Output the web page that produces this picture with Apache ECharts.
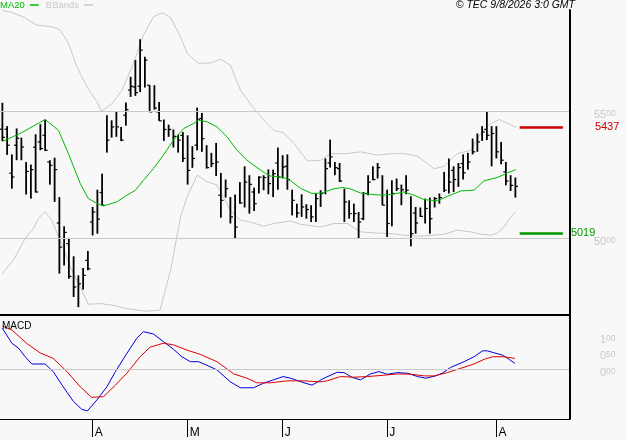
<!DOCTYPE html>
<html>
<head>
<meta charset="utf-8">
<script src="https://cdn.jsdelivr.net/npm/echarts@6/dist/echarts.min.js"></script>
<style>
  html, body { margin: 0; padding: 0; background: #f8f8f8; }
  #chart { width: 627px; height: 440px; }
</style>
</head>
<body>
<div id="chart"></div>
<script>
// bar slots on the time axis (data fills the first 109, rest is blank space)
const slotCount = 120;
const monthTicks = [19, 39, 59, 81, 104];
const monthLabels = ["A", "M", "J", "J", "A"];

const highs = [
    5533, 5441, 5330, 5432, 5396, 5300, 5290, 5409, 5449, 5467,
    5307, 5317, 5162, 5047, 5001, 4929, 4854, 4883, 4950, 5123,
    5191, 5254, 5484, 5464, 5500, 5438, 5534, 5635, 5701, 5783,
    5714, 5602, 5602, 5536, 5467, 5447, 5428, 5408, 5418, 5405,
    5362, 5514, 5493, 5366, 5336, 5375, 5257, 5231, 5162, 5172,
    5221, 5283, 5248, 5199, 5244, 5248, 5271, 5270, 5357, 5327,
    5330, 5191, 5136, 5173, 5134, 5130, 5176, 5189, 5314, 5388,
    5300, 5296, 5195, 5149, 5136, 5103, 5182, 5248, 5283, 5296,
    5248, 5191, 5228, 5235, 5211, 5248, 5165, 5123, 5121, 5156,
    5160, 5162, 5176, 5261, 5314, 5283, 5296, 5330, 5336, 5392,
    5412, 5441, 5497, 5441, 5441, 5379, 5300, 5248, 5239
];
const lows = [
    5382, 5328, 5195, 5307, 5307, 5172, 5156, 5180, 5346, 5343,
    5211, 5143, 4861, 4893, 4841, 4769, 4729, 4798, 4874, 5011,
    5018, 5127, 5337, 5396, 5399, 5382, 5443, 5556, 5560, 5575,
    5593, 5497, 5506, 5462, 5383, 5399, 5357, 5337, 5300, 5211,
    5277, 5346, 5340, 5274, 5280, 5245, 5081, 5160, 5058, 4999,
    5136, 5121, 5097, 5107, 5176, 5189, 5173, 5162, 5191, 5235,
    5191, 5090, 5081, 5084, 5077, 5064, 5064, 5123, 5173, 5278,
    5248, 5221, 5064, 5077, 5064, 5001, 5071, 5169, 5228, 5235,
    5130, 5005, 5047, 5186, 5130, 5173, 4968, 5018, 5084, 5058,
    5018, 5121, 5136, 5182, 5176, 5182, 5202, 5231, 5270, 5330,
    5340, 5383, 5386, 5283, 5314, 5291, 5208, 5186, 5160
];
const closes = [
    5397, 5366, 5241, 5393, 5359, 5263, 5270, 5182, 5353, 5346,
    5287, 5270, 4965, 5023, 4850, 4808, 4821, 4854, 4880, 5103,
    5075, 5130, 5386, 5438, 5438, 5386, 5506, 5598, 5573, 5740,
    5701, 5497, 5512, 5462, 5428, 5428, 5401, 5386, 5314, 5267,
    5314, 5467, 5392, 5278, 5294, 5300, 5149, 5195, 5084, 5044,
    5139, 5221, 5212, 5136, 5240, 5239, 5215, 5254, 5241, 5280,
    5231, 5149, 5099, 5123, 5113, 5084, 5156, 5176, 5274, 5320,
    5278, 5225, 5143, 5097, 5097, 5064, 5176, 5221, 5231, 5278,
    5130, 5058, 5176, 5195, 5191, 5189, 5018, 5060, 5086, 5117,
    5077, 5156, 5160, 5189, 5221, 5231, 5278, 5257, 5300, 5340,
    5379, 5418, 5405, 5412, 5340, 5307, 5225, 5208, 5204
];
// open ticks, only where one can be seen on the left of the bar
const opens = [
    5429, 5429, 5256, 5366, null, null, null, 5358, 5379, 5405,
    5300, null, 5060, null, 4979, null, null, null, 4913, 5064,
    null, 5180, null, null, null, null, 5484, 5583, 5595, 5598,
    null, 5602, null, 5497, null, null, null, null, 5405, null,
    null, 5366, 5471, null, null, null, 5169, null, null, null,
    null, null, null, 5182, null, null, null, null, 5296, null,
    5283, null, null, null, null, null, null, null, null, 5296,
    null, 5274, null, null, null, null, 5077, 5176, null, null,
    null, null, null, null, null, null, null, 5099, null, null,
    null, null, null, null, null, 5267, null, 5294, null, null,
    null, null, 5428, null, null, null, 5261, null, null
];

// MA20, read at bar positions
const maX = [0, 3.7, 6.5, 9, 11.8, 13.9, 16.4, 18.1, 19.9, 21.3, 24.1, 26.2, 28, 29.7, 31.8, 33.9, 36, 38.2, 40.3, 41.3,
    43.1, 45.2, 47.3, 49.4, 51.5, 53.6, 55.4, 56.4, 59.2, 60.7, 62.8, 65.2, 67.3, 69.4, 71.6, 73.3, 75.4, 77.5, 80, 82.1,
    84.5, 86.7, 88.8, 91.6, 93.7, 96.5, 99.3, 101.4, 104.2, 106.4, 108.1];
const maY = [5381, 5412, 5441, 5467, 5425, 5333, 5215, 5156, 5137, 5127, 5143, 5169, 5189, 5228, 5274, 5327, 5386, 5432, 5452, 5465,
    5458, 5438, 5399, 5346, 5307, 5278, 5255, 5245, 5239, 5226, 5196, 5176, 5178, 5193, 5200, 5194, 5178, 5173, 5169, 5173,
    5182, 5169, 5152, 5147, 5165, 5186, 5189, 5226, 5239, 5257, 5270];

// Bollinger bands
const upperX = [0, 1.6, 4.4, 7.2, 10.4, 12.2, 13.9, 15.7, 17.8, 19.9, 20.9, 23.1, 25.2, 27.3, 29.7, 31.8, 33.6, 35.3, 37.5, 38.9,
    41.3, 43.8, 45.9, 48, 50.1, 52.9, 55.4, 57.1, 59.2, 61.4, 64.2, 67, 69.1, 72.6, 75.4, 78.9, 82.1, 84.5, 87.4, 89.5,
    90.9, 93, 95.8, 98.6, 100.7, 102.8, 104.6, 106.4, 108.1];
const upperY = [5895, 5891, 5871, 5839, 5832, 5819, 5767, 5674, 5596, 5537, 5500, 5530, 5583, 5674, 5799, 5871, 5887, 5871, 5793, 5727,
    5688, 5690, 5704, 5681, 5583, 5511, 5458, 5425, 5415, 5373, 5304, 5307, 5333, 5333, 5340, 5327, 5333, 5333, 5323, 5294,
    5274, 5283, 5333, 5346, 5412, 5452, 5467, 5452, 5436];
const lowerX = [0, 2.3, 4.8, 6.5, 7.6, 9, 10.4, 12.2, 14.3, 16.4, 18.1, 20.6, 23.4, 26.2, 30.1, 33.2, 35.4, 37.5, 38.9, 41,
    43.1, 45.2, 48, 50.1, 52.2, 55, 57.1, 60.7, 62.8, 67, 69.8, 72.6, 75.4, 78.2, 82.1, 84.5, 87.4, 90.9, 93, 95.8,
    98.6, 100.7, 102.8, 104.2, 105.6, 107, 108.1];
const lowerY = [4861, 4913, 4999, 5038, 5078, 5104, 5071, 4992, 4887, 4808, 4740, 4743, 4736, 4723, 4713, 4717, 4874, 5084, 5163, 5248,
    5222, 5209, 5110, 5071, 5064, 5047, 5058, 5068, 5055, 5044, 5058, 5058, 5025, 5021, 5018, 5012, 5008, 5012, 5016, 5032,
    5025, 5016, 5012, 5021, 5044, 5084, 5104];

// MACD panel
const macdX = [0, 0.9, 2, 3.4, 4.8, 6.2, 9, 10.7, 12.8, 15, 16.7, 17.9, 19.9, 22, 23.8, 26.2, 28.3, 29.7, 31.8, 33.9,
    36, 37.8, 39.6, 41.3, 43.4, 45.2, 48, 50.1, 52.9, 55, 57.1, 59.1, 60.7, 63.5, 65.2, 67.7, 70.5, 71.9, 73.7, 75.4,
    77.5, 79.3, 81, 83.2, 85.3, 87.4, 89.1, 91.2, 92.6, 94.4, 97.2, 99.3, 101.1, 102.1, 103.5, 105.3, 106.7, 107.9];
const macdY = [1.24, 1.04, 0.79, 0.64, 0.38, 0.16, 0.16, -0.07, -0.53, -0.98, -1.21, -1.26, -0.93, -0.53, -0.07, 0.48, 0.94, 1.14, 1.07, 0.84,
    0.61, 0.38, 0.23, 0.23, 0.10, -0.02, -0.38, -0.56, -0.56, -0.42, -0.32, -0.22, -0.27, -0.41, -0.48, -0.27, -0.09, -0.10, -0.25, -0.32,
    -0.14, -0.07, -0.15, -0.10, -0.12, -0.22, -0.27, -0.20, -0.12, 0.06, 0.23, 0.38, 0.56, 0.56, 0.50, 0.43, 0.30, 0.18];
const signalX = [0, 2, 5.1, 7.9, 10.7, 13.6, 16.4, 18.8, 21.3, 23.8, 26.2, 29, 31.1, 33.9, 36, 38.9, 41.7, 45.2, 48.7, 51.5,
    53.6, 56.4, 60, 63.5, 67, 68.4, 71.2, 74, 76.8, 80.3, 83.2, 86, 88.8, 90.9, 93.7, 96.5, 99.3, 101.4, 103.2, 105.6, 107.9];
const signalY = [1.31, 1.19, 0.79, 0.50, 0.33, -0.07, -0.53, -0.85, -0.83, -0.48, -0.12, 0.38, 0.67, 0.79, 0.74, 0.58, 0.45, 0.23, -0.14, -0.27,
    -0.41, -0.41, -0.35, -0.35, -0.38, -0.35, -0.22, -0.24, -0.22, -0.18, -0.14, -0.15, -0.20, -0.20, -0.10, 0.03, 0.16, 0.30, 0.38, 0.38, 0.33];

const priceTicks = [5000, 5500];
const macdTicks = [0, 0.5, 1];
const priceRange = [4698, 5898];
const macdRange = [-1.506, 1.645];
const resistance = 5437;
const support = 5019;

const chart = echarts.init(document.getElementById("chart"));
const font = "Liberation Sans, Arial, sans-serif";
const grey = "#c8c8c8";

const pairs = (xs, ys) => xs.map((x, k) => [x, ys[k]]);

function supLabel(intPart, decPart) {
    return `{a|${intPart}}{b|${decPart}}`;
}

function renderBar(params, api) {
    const i = api.value(0);
    const top = api.coord([i, api.value(1)]);
    const bottom = api.coord([i, api.value(2)]);
    const close = api.coord([i, api.value(3)]);
    const children = [
        {type: "line", shape: {x1: top[0], y1: top[1], x2: bottom[0], y2: bottom[1]}, style: {stroke: "#000", lineWidth: 1.8}},
        {type: "line", shape: {x1: close[0], y1: close[1], x2: close[0] + 2.6, y2: close[1]}, style: {stroke: "#000", lineWidth: 1.2}}
    ];
    const open = opens[params.dataIndex];
    if (open != null) {
        const p = api.coord([i, open]);
        children.push({type: "line", shape: {x1: p[0] - 2.6, y1: p[1], x2: p[0], y2: p[1]}, style: {stroke: "#000", lineWidth: 1.2}});
    }
    return {type: "group", children};
}

const labelRich = {
    a: {fontSize: 11, color: grey, fontFamily: font},
    b: {fontSize: 8.5, color: grey, fontFamily: font, padding: [0, 0, 3, 0]}
};

const hiddenAxis = {
    show: false, type: "value", min: 0, max: 1,
    axisLine: {show: false}, axisTick: {show: false}, axisLabel: {show: false}, splitLine: {show: false}
};

chart.setOption({
    animation: false,
    backgroundColor: "#f8f8f8",
    textStyle: {fontFamily: font},
    title: [
        {
            text: "© TEC 9/8/2026 3:0 GMT", right: 52, top: 0, padding: 0,
            textStyle: {fontSize: 10.5, fontStyle: "italic", fontWeight: "normal", color: "#000", fontFamily: font}
        },
        {
            text: "MACD", left: 2, top: 321, padding: 0,
            textStyle: {fontSize: 10, fontWeight: "normal", color: "#000", fontFamily: font}
        }
    ],
    legend: {
        left: 0, top: 0, padding: 0, align: "right", icon: "rect",
        itemWidth: 9, itemHeight: 1.5, itemGap: 7,
        textStyle: {fontSize: 9.5, fontFamily: font},
        data: [
            {name: "MA20", textStyle: {color: "#00bb00"}},
            {name: "BBands", textStyle: {color: grey}}
        ]
    },
    grid: [
        {left: 0, right: 57, top: 10, height: 305},
        {left: 0, right: 57, top: 315, height: 104},
        // one-pixel strip used as the right frame edge of both panels
        {left: 569, right: 57, top: 9, height: 410, show: true, backgroundColor: "#000", borderWidth: 0, z: 10}
    ],
    xAxis: [
        {
            type: "value", gridIndex: 0, min: -0.5, max: slotCount - 0.5,
            axisLine: {onZero: false, lineStyle: {color: "#000", width: 2}},
            axisTick: {show: false}, axisLabel: {show: false}, splitLine: {show: false}
        },
        {
            type: "value", gridIndex: 1, min: -0.5, max: slotCount - 0.5,
            axisLine: {onZero: false, lineStyle: {color: "#000", width: 1}},
            axisTick: {show: true, customValues: monthTicks, length: 18, lineStyle: {color: "#000", width: 1}},
            axisLabel: {
                customValues: monthTicks,
                formatter: v => monthLabels[monthTicks.indexOf(Math.round(v))] || "",
                align: "left", verticalAlign: "top", margin: 8, padding: [0, 0, 0, 2],
                fontSize: 12, color: "#000", fontFamily: font
            },
            splitLine: {show: false}
        },
        {...hiddenAxis, gridIndex: 2}
    ],
    yAxis: [
        {
            type: "value", gridIndex: 0, position: "right", min: priceRange[0], max: priceRange[1],
            axisLine: {show: true, onZero: false, lineStyle: {color: "#000", width: 1}},
            axisTick: {show: false}, splitLine: {show: false},
            axisLabel: {
                customValues: priceTicks, margin: 24, padding: [8, 0, 0, 0],
                formatter: v => {
                    const s = String(Math.round(v));
                    return supLabel(s.slice(0, 2), s.slice(2));
                },
                rich: labelRich
            }
        },
        {
            type: "value", gridIndex: 1, position: "right", min: macdRange[0], max: macdRange[1],
            axisLine: {show: true, onZero: false, lineStyle: {color: "#000", width: 1}},
            axisTick: {show: false}, splitLine: {show: false},
            axisLabel: {
                customValues: macdTicks, margin: 30, padding: [7, 0, 0, 0],
                formatter: v => {
                    const [ip, dp] = v.toFixed(2).split(".");
                    return supLabel(ip, dp);
                },
                rich: labelRich
            }
        },
        {...hiddenAxis, gridIndex: 2}
    ],
    series: [
        {
            name: "BBands", type: "line", xAxisIndex: 0, yAxisIndex: 0, z: 1,
            data: pairs(upperX, upperY), showSymbol: false, symbol: "none",
            lineStyle: {color: grey, width: 1}, itemStyle: {color: grey},
            markLine: {
                silent: true, symbol: "none", label: {show: false},
                lineStyle: {color: grey, width: 1, type: "solid"},
                data: priceTicks.map(v => ({yAxis: v}))
            }
        },
        {
            name: "BBands", type: "line", xAxisIndex: 0, yAxisIndex: 0, z: 1,
            data: pairs(lowerX, lowerY), showSymbol: false, symbol: "none",
            lineStyle: {color: grey, width: 1}, itemStyle: {color: grey}
        },
        {
            name: "OHLC", type: "custom", xAxisIndex: 0, yAxisIndex: 0, z: 3,
            renderItem: renderBar,
            encode: {x: 0, y: [1, 2, 3]},
            data: highs.map((h, i) => [i, h, lows[i], closes[i]])
        },
        {
            name: "MA20", type: "line", xAxisIndex: 0, yAxisIndex: 0, z: 4,
            data: pairs(maX, maY), showSymbol: false, symbol: "none",
            lineStyle: {color: "#00bb00", width: 1}, itemStyle: {color: "#00bb00"},
            markLine: {
                silent: true, symbol: "none",
                data: [
                    [
                        {coord: [108.9, resistance], lineStyle: {color: "#cc0000", width: 2.5, type: "solid"},
                            label: {show: true, position: "end", distance: 32, formatter: String(resistance), color: "#cc0000", fontSize: 11, fontFamily: font}},
                        {coord: [118, resistance]}
                    ],
                    [
                        {coord: [108.9, support], lineStyle: {color: "#009900", width: 2.5, type: "solid"},
                            label: {show: true, position: "end", distance: 8, formatter: String(support), color: "#009900", fontSize: 11, fontFamily: font}},
                        {coord: [118, support]}
                    ]
                ]
            }
        },
        {
            name: "MACD", type: "line", xAxisIndex: 1, yAxisIndex: 1, z: 3,
            data: pairs(macdX, macdY), showSymbol: false, symbol: "none",
            lineStyle: {color: "#0000dd", width: 1},
            markLine: {
                silent: true, symbol: "none", label: {show: false},
                lineStyle: {color: grey, width: 1, type: "solid"},
                data: [{yAxis: 0}]
            }
        },
        {
            name: "Signal", type: "line", xAxisIndex: 1, yAxisIndex: 1, z: 4,
            data: pairs(signalX, signalY), showSymbol: false, symbol: "none",
            lineStyle: {color: "#dd0000", width: 1}
        }
    ]
});
</script>
</body>
</html>
